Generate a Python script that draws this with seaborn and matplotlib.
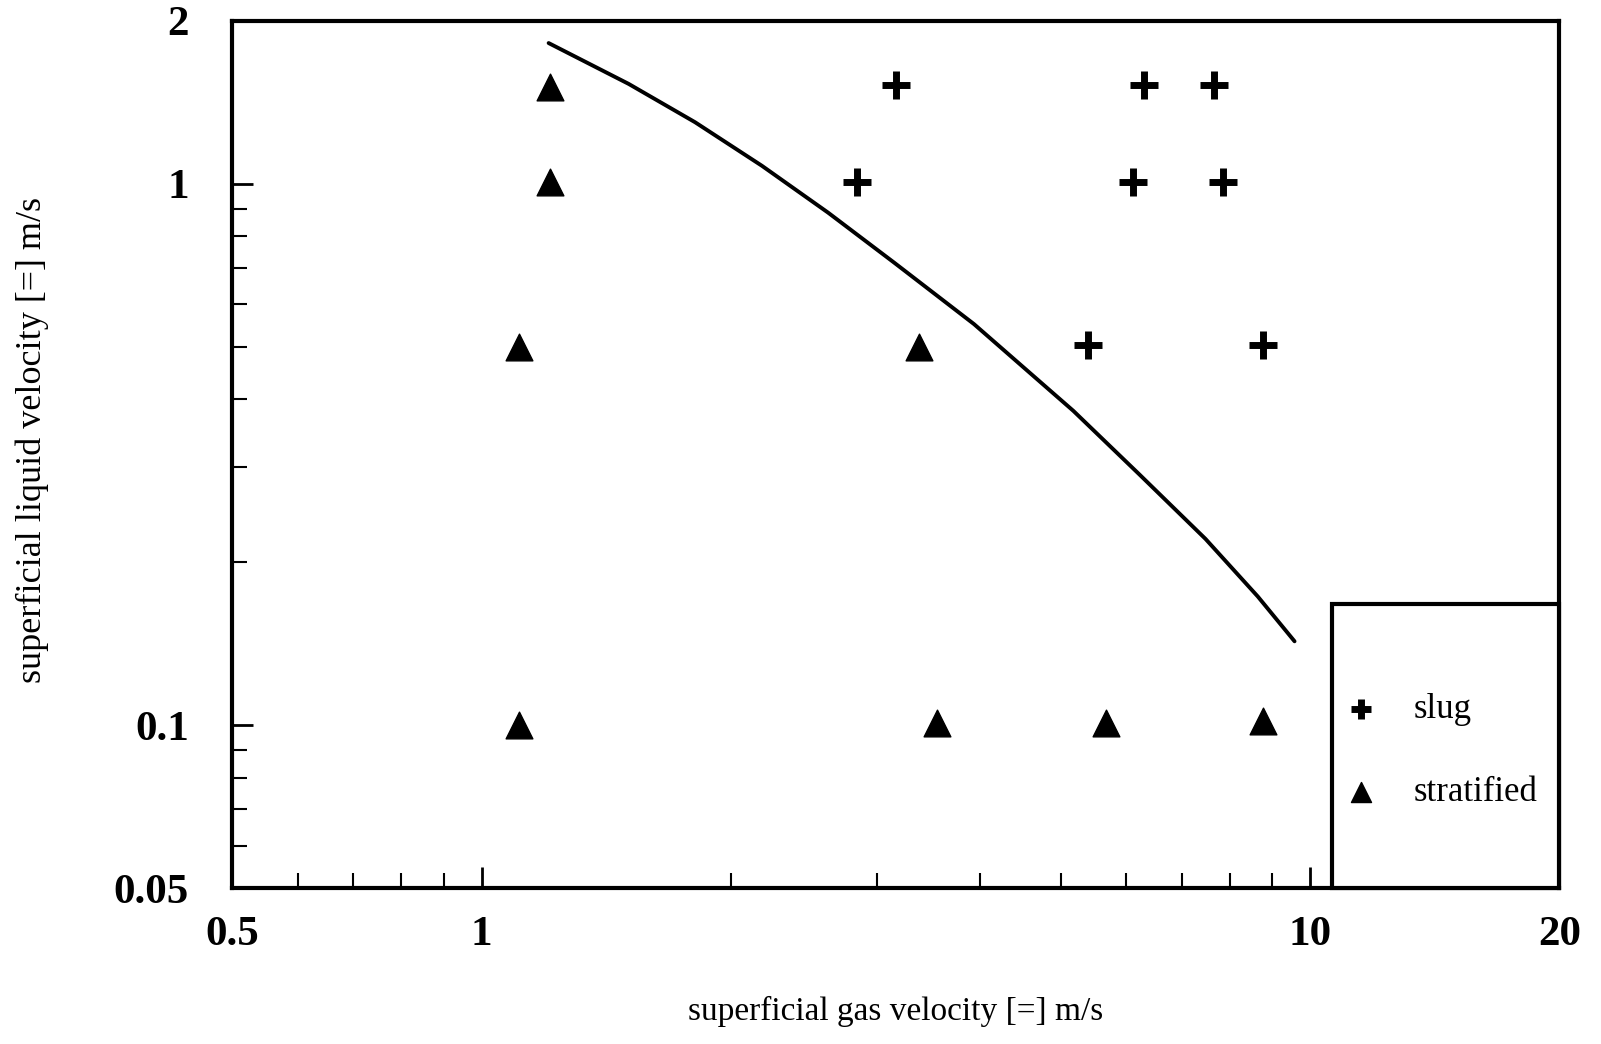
import matplotlib
matplotlib.use("Agg")
import matplotlib.pyplot as plt
from matplotlib.patches import Rectangle
from matplotlib.ticker import NullFormatter
import seaborn as sns

# superficial velocities (m/s) of the observed flow regimes
SLUG_GAS = [3.16, 6.31, 7.66, 2.84, 6.12, 7.86, 5.39, 8.77]
SLUG_LIQ = [1.52, 1.52, 1.52, 1.01, 1.01, 1.01, 0.505, 0.505]

STRAT_GAS = [1.21, 1.21, 1.11, 1.11, 3.37, 3.55, 5.68, 8.78]
STRAT_LIQ = [1.51, 1.01, 0.50, 0.100, 0.50, 0.101, 0.101, 0.102]

# slug / stratified transition line
BOUNDARY_GAS = [1.205, 1.505, 1.81, 2.18, 2.62, 3.15, 3.93, 5.18, 6.22, 7.48, 8.65, 9.58]
BOUNDARY_LIQ = [1.82, 1.53, 1.30, 1.08, 0.885, 0.715, 0.551, 0.381, 0.291, 0.221, 0.173, 0.143]

X_MAJOR = [0.5, 1, 10, 20]
X_LABELS = ["0.5", "1", "10", "20"]
X_MINOR = [0.6, 0.7, 0.8, 0.9, 2, 3, 4, 5, 6, 7, 8, 9]
Y_MAJOR = [0.05, 0.1, 1, 2]
Y_LABELS = ["0.05", "0.1", "1", "2"]
Y_MINOR = [0.06, 0.07, 0.08, 0.09, 0.2, 0.3, 0.4, 0.5, 0.6, 0.7, 0.8, 0.9]


def main() -> None:
    sns.set_theme(style="ticks")
    plt.rcParams["font.family"] = ["Liberation Serif", "DejaVu Serif"]

    fig = plt.figure(figsize=(16.01, 10.44), dpi=100)
    ax = fig.add_axes([0.145, 0.149, 0.829, 0.831])
    ax.set_xscale("log")
    ax.set_yscale("log")

    sns.lineplot(x=BOUNDARY_GAS, y=BOUNDARY_LIQ, sort=False, color="black",
                 linewidth=2.8, ax=ax)
    sns.scatterplot(x=SLUG_GAS, y=SLUG_LIQ, marker="+", s=380, linewidth=5,
                    color="black", label="slug", ax=ax)
    sns.scatterplot(x=STRAT_GAS, y=STRAT_LIQ, marker="^", s=370, color="black",
                    edgecolor="black", linewidth=1, label="stratified", ax=ax)

    ax.set_xlim(0.5, 20)
    ax.set_ylim(0.05, 2)
    ax.set_xticks(X_MAJOR, labels=X_LABELS)
    ax.set_xticks(X_MINOR, minor=True)
    ax.set_yticks(Y_MAJOR, labels=Y_LABELS)
    ax.set_yticks(Y_MINOR, minor=True)
    ax.xaxis.set_minor_formatter(NullFormatter())
    ax.yaxis.set_minor_formatter(NullFormatter())

    ax.tick_params(which="both", direction="in", color="black", labelcolor="black")
    ax.tick_params(which="major", length=15, width=2, labelsize=31)
    ax.tick_params(which="minor", length=11, width=1.5)
    ax.tick_params(axis="x", which="major", pad=20)
    ax.tick_params(axis="y", which="major", pad=31)
    plt.setp(ax.get_xticklabels() + ax.get_yticklabels(), fontweight="bold")

    for sp in ax.spines.values():
        sp.set_linewidth(3)
        sp.set_color("black")

    ax.set_xlabel("superficial gas velocity [=] m/s", fontsize=24, labelpad=30, color="black")
    ax.set_ylabel("superficial liquid velocity [=] m/s", fontsize=26, color="black")
    ax.yaxis.set_label_coords(-0.138, 0.517)

    # boxed key in the lower right corner
    ax.add_patch(Rectangle((0.829, 0), 0.171, 0.328, transform=ax.transAxes,
                           facecolor="white", edgecolor="black", linewidth=3,
                           zorder=4, clip_on=False))
    leg = ax.legend(loc="center left", bbox_to_anchor=(0.8377, 0.1586), frameon=False,
                    fontsize=25, markerscale=0.75, handlelength=1.0, borderpad=0,
                    borderaxespad=0, handletextpad=1.0, labelspacing=1.45)
    leg.set_zorder(5)
    for txt in leg.get_texts():
        txt.set_color("black")

    fig.savefig("out.png", dpi=100, facecolor="white")


if __name__ == "__main__":
    main()
